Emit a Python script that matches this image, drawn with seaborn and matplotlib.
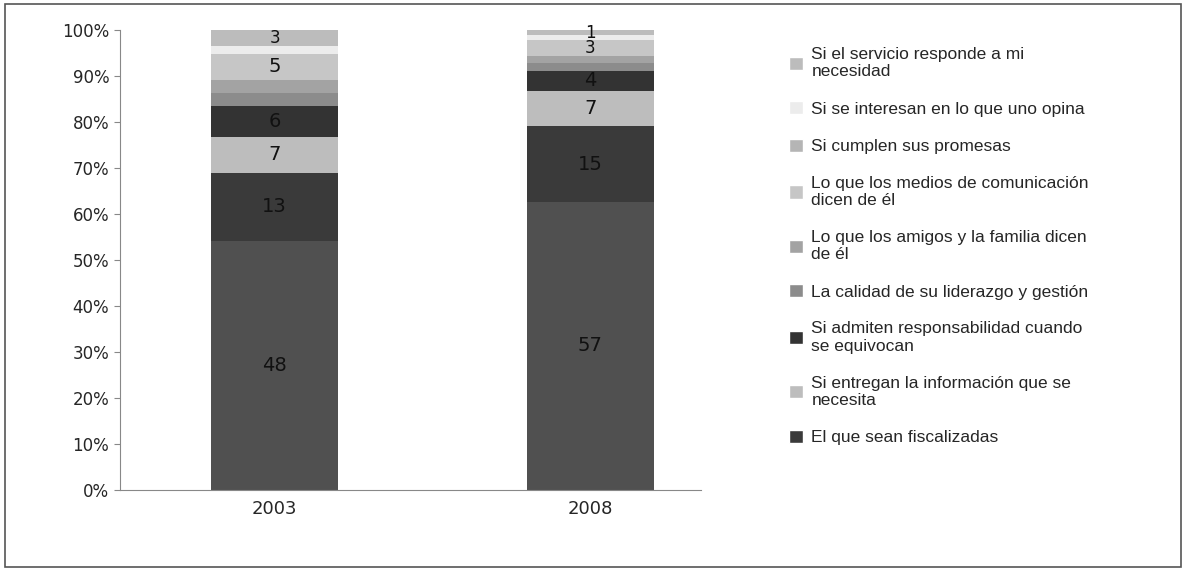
import matplotlib
matplotlib.use("Agg")
import matplotlib.pyplot as plt
import seaborn as sns
import numpy as np
import pandas as pd
from matplotlib.patches import Patch, Rectangle

years = ["2003", "2008"]
series = ["El que sean fiscalizadas",
          "Si entregan la información que se\nnecesita",
          "Si admiten responsabilidad cuando\nse equivocan",
          "La calidad de su liderazgo y gestión",
          "Lo que los amigos y la familia dicen\nde él",
          "Lo que los medios de comunicación\ndicen de él",
          "Si cumplen sus promesas",
          "Si se interesan en lo que uno opina",
          "Si el servicio responde a mi\nnecesidad"]
v_fisc = [48, 57]
v_entr = [13, 15]
v_admi = [7, 7]
v_cali = [6, 4]
v_amig = [2.5, 1.5]
v_medi = [2.5, 1.5]
v_cump = [5, 3]
v_inte = [1.5, 1]
v_serv = [3, 1]
values = [v_fisc, v_entr, v_admi, v_cali, v_amig, v_medi, v_cump, v_inte, v_serv]
seg_colors = ["#505050", "#3a3a3a", "#bdbdbd", "#333333", "#8c8c8c",
              "#a3a3a3", "#c6c6c6", "#ececec", "#bcbcbc"]
leg_colors = ["#3a3a3a", "#bdbdbd", "#333333", "#8c8c8c", "#a3a3a3",
              "#c6c6c6", "#b5b5b5", "#ececec", "#bcbcbc"]

sns.set_style("white")
plt.rcParams['font.family'] = ['DejaVu Sans']
fig = plt.figure(figsize=(11.86, 5.71), dpi=100)
ax = fig.add_axes([0.101, 0.142, 0.49, 0.805])
fig.patches.append(Rectangle((0.004, 0.007), 0.992, 0.986, transform=fig.transFigure,
                             fill=False, edgecolor="#555555", lw=1.2))

arr = np.array(values, dtype=float)
pct = arr / arr.sum(axis=0) * 100
bottom = np.zeros(2)
for i in range(len(series)):
    df = pd.DataFrame({"year": years, "v": pct[i]})
    sns.barplot(data=df, x="year", y="v", bottom=bottom, color=seg_colors[i],
                width=0.4, ax=ax, saturation=1, edgecolor="none")
    for j in range(2):
        val = values[i][j]
        if val == int(val) and (val >= 3 or (i == 8 and j == 1)):
            fs = 14 if pct[i][j] > 4 else 12
            ax.text(j, bottom[j] + pct[i][j] / 2, str(int(val)),
                    ha="center", va="center", fontsize=fs, color="#111111")
    bottom = bottom + pct[i]

ax.set_xlim(-0.49, 1.35)
ax.set_ylim(0, 100)
ax.set_yticks(range(0, 101, 10))
ax.set_yticklabels([f"{t}%" for t in range(0, 101, 10)], fontsize=12)
ax.tick_params(axis="x", labelsize=13)
ax.set_xlabel("")
ax.set_ylabel("")
for s in ["top", "right"]:
    ax.spines[s].set_visible(False)
for s in ["left", "bottom"]:
    ax.spines[s].set_color("#888888")
ax.tick_params(axis="y", length=4, color="#888888", left=True)

handles = [Patch(facecolor=leg_colors[i], label=series[i]) for i in range(len(series))][::-1]
fig.legend(handles=handles, loc="upper left", bbox_to_anchor=(0.652, 0.945),
           frameon=False, prop={"family": "Liberation Sans", "size": 12.5},
           handlelength=0.8, handleheight=0.8, labelspacing=1.25, handletextpad=0.5)
fig.savefig("out.png", dpi=100)
